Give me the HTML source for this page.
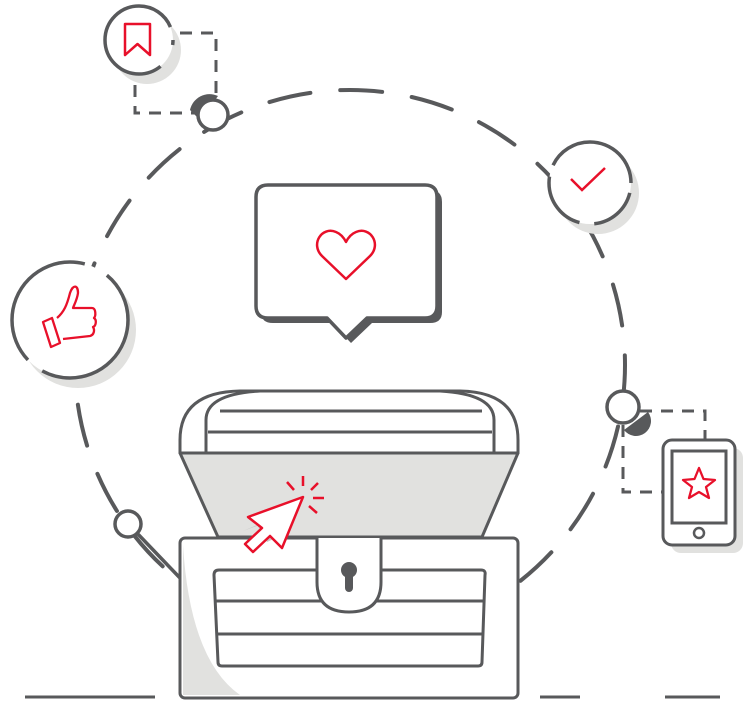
<!DOCTYPE html>
<html><head><style>body{margin:0;background:#fff}svg{display:block}</style></head>
<body>
<svg width="748" height="701" viewBox="0 0 748 701" xmlns="http://www.w3.org/2000/svg">
<g fill="none" stroke="#58595b" stroke-width="4" stroke-linecap="round">
<circle cx="350" cy="365" r="275" stroke-dasharray="42 30" stroke-dashoffset="10"/>
<path d="M180 33 H216 V95 M135 85 V113 H195" stroke-width="3" stroke-dasharray="12 9" stroke-linecap="butt"/>
<path d="M640 411 H705 V440 M623 425 V492 H662" stroke-width="3" stroke-dasharray="12 9" stroke-linecap="butt"/>
</g>
<circle cx="147" cy="50" r="34" fill="#e1e1df"/>
<circle cx="78" cy="330" r="58" fill="#e1e1df"/>
<circle cx="598" cy="193" r="41" fill="#e1e1df"/>
<rect x="671" y="448" width="72" height="105" rx="10" fill="#e1e1df"/>
<circle cx="139" cy="40" r="34" fill="#fff" stroke="#58595b" stroke-width="3.5" stroke-dasharray="170 25" stroke-dashoffset="-30"/>
<circle cx="70" cy="320" r="58" fill="#fff" stroke="#58595b" stroke-width="3.5" stroke-dasharray="120 18 150 25 200" stroke-dashoffset="0"/>
<circle cx="590" cy="183" r="41" fill="#fff" stroke="#58595b" stroke-width="3.5" stroke-dasharray="50 15 60 12 200" stroke-dashoffset="-10"/>
<path d="M125 24 H150 V55 L137.5 44 L125 55 Z" fill="none" stroke="#e8102a" stroke-width="2.5" stroke-linejoin="round"/>
<path d="M43 322 L52 318 L60 343 L51 347 Z M57 318 C64 312 67 305 70 293 C73 284 78 285 78 293 C77 300 74 305 73 308 L92 308 C96 308 96 316 94 318 C97 320 96 326 93 327 C95 330 94 335 90 336 L63 339" fill="none" stroke="#e8102a" stroke-width="2.3" stroke-linejoin="round"/>
<path d="M571 179 L582 190 L605 168" fill="none" stroke="#e8102a" stroke-width="2.5"/>
<path d="M190 110 A20 20 0 0 1 218 96 L200 120 Z" fill="#58595b"/>
<circle cx="213" cy="115" r="15" fill="#fff" stroke="#58595b" stroke-width="3.5"/>
<path d="M648 412 A14 14 0 0 1 624 430 Z" fill="#58595b"/>
<circle cx="623" cy="407" r="16" fill="#fff" stroke="#58595b" stroke-width="3.5"/>
<path d="M135 531 L180 578" stroke="#58595b" stroke-width="3.5"/>
<circle cx="128" cy="524" r="13" fill="#fff" stroke="#58595b" stroke-width="3.5"/>
<rect x="663" y="440" width="72" height="105" rx="9" fill="#fff" stroke="#58595b" stroke-width="3"/>
<rect x="672" y="451" width="54" height="72" fill="#fff" stroke="#58595b" stroke-width="3"/>
<circle cx="699" cy="533" r="5" fill="none" stroke="#58595b" stroke-width="2.5"/>
<path d="M699 468 L703.5 479 L715 480 L706 487 L709 498 L699 492 L689 498 L692 487 L683 480 L694.5 479 Z" fill="none" stroke="#e8102a" stroke-width="2.3" stroke-linejoin="round"/>
<path d="M268 190 H430 Q442 190 442 202 V312 Q442 323 430 323 H372 L351 343 L332 323 H273 Q261 323 261 312 V202 Q261 190 268 190 Z" fill="#58595b"/>
<path d="M268 185 H425 Q437 185 437 197 V306 Q437 318 425 318 H367 L346 338 L327 318 H268 Q256 318 256 306 V197 Q256 185 268 185 Z" fill="#fff" stroke="#58595b" stroke-width="3.5" stroke-linejoin="round"/>
<path d="M346 279 L322 256 C310 244 322 226 336 232 C341 234 344 238 346 242 C348 238 351 234 356 232 C370 226 382 244 370 256 Z" fill="none" stroke="#e8102a" stroke-width="2.5" stroke-linejoin="round"/>
<path d="M25 697 H155 M540 697 H580 M665 697 H720" stroke="#58595b" stroke-width="3"/>
<g stroke="#58595b" stroke-width="3" stroke-linejoin="round">
<path d="M180 453 V440 Q180 392 240 391 H460 Q518 392 518 440 V453 Z" fill="#fff"/>
<path d="M206 453 V420 Q206 394 260 391 H440 Q494 394 494 420 V453" fill="none"/>
<path d="M220 411 H482 M208 432 H492" fill="none"/>
<path d="M180 453 H518 L482 537 H218 Z" fill="#e1e1df"/>
<rect x="180" y="538" width="338" height="160" rx="5" fill="#fff"/>
<path d="M183 545 Q190 660 240 695 H183 Z" fill="#e1e1df" stroke="none"/>
<path d="M219 570 H481 Q486 570 485 575 L482 662 Q482 666 478 666 H222 Q218 666 218 662 L214 575 Q214 570 219 570 Z" fill="#fff"/>
<path d="M215 601 H484 M217 634 H483" fill="none"/>
<path d="M317 538 V582 Q317 612 349 612 Q381 612 381 582 V538" fill="#fff"/>
</g>
<circle cx="349" cy="570" r="8" fill="#58595b"/>
<rect x="345" y="570" width="8" height="22" rx="4" fill="#58595b"/>
<path d="M248 527 L262 521 L272 538 L285 532 L275 518 L289 512 Z" fill="#c8c8c8" transform="translate(-5,4)"/>
<path d="M303 497 L248 517 L262 528 L245 544 L253 552 L270 536 L282 548 Z" fill="#fff" stroke="#e8102a" stroke-width="2.5" stroke-linejoin="round"/>
<path d="M303 476 V486 M287 482 L294 490 M318 483 L311 490 M313 498 H324 M309 506 L317 513" stroke="#e8102a" stroke-width="2.5"/>
</svg>
</body></html>
